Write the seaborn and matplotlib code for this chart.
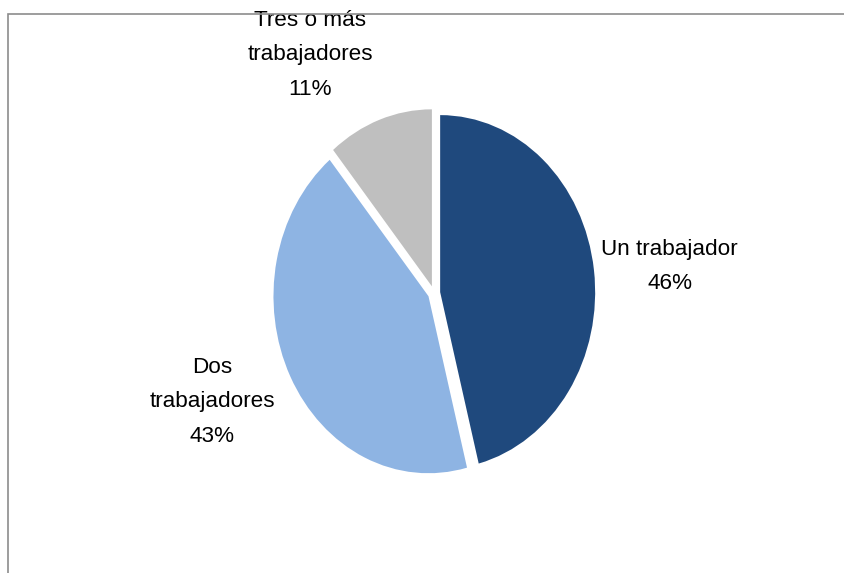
import matplotlib
matplotlib.use("Agg")
import matplotlib.pyplot as plt
import seaborn as sns
from matplotlib.patches import Rectangle

categories = ["Un trabajador", "Dos trabajadores", "Tres o más trabajadores"]
label_text = ["Un trabajador", "Dos\ntrabajadores", "Tres o más\ntrabajadores"]
values = [46, 43, 11]

sns.set_theme(style="white")
plt.rcParams["font.family"] = ["Liberation Sans", "DejaVu Sans"]

colors = sns.color_palette(["#1F497D", "#8EB4E3", "#BFBFBF"])

fig = plt.figure(figsize=(8.44, 5.73), dpi=100)
W, H = 844, 573
cx, cy, rx, ry = 434, 293, 155, 177
lim = 1.2
ax = fig.add_axes([(cx - rx * lim) / W, (H - cy - ry * lim) / H,
                   2 * rx * lim / W, 2 * ry * lim / H])

wedges, _ = ax.pie(values, colors=colors, startangle=90, counterclock=False,
                   explode=[0.04] * 3, radius=1.0,
                   wedgeprops=dict(linewidth=0))
ax.set_aspect("auto")
ax.set_xlim(-lim, lim)
ax.set_ylim(-lim, lim)
ax.axis("off")

label_pos = [(1.52, 0.15), (-1.43, -0.615), (-0.80, 1.345)]
for txt, v, (lx, ly) in zip(label_text, values, label_pos):
    ax.text(lx, ly, f"{txt}\n{v}%", ha="center", va="center",
            fontsize=16.2, color="black", linespacing=1.85)

# chart border (only top and left visible)
fig.patches.append(Rectangle((7.5 / W, -0.5), 2.0, 1.5 - 13.5 / H,
                             transform=fig.transFigure, fill=False,
                             edgecolor="#8C8C8C", linewidth=1.2))

fig.savefig("out.png", dpi=100)
